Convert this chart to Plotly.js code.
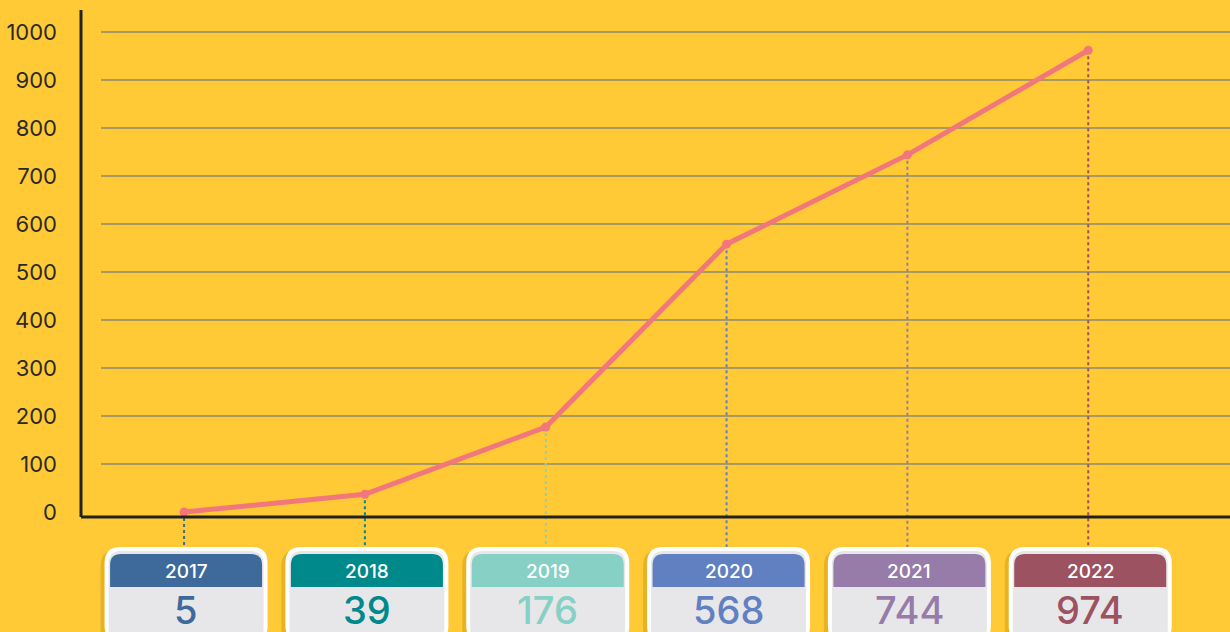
<!DOCTYPE html>
<html>
<head>
<meta charset="utf-8">
<script src="https://cdn.plot.ly/plotly-3.0.1.min.js"></script>
<style>
  html, body { margin: 0; padding: 0; background: #FFCA35; }
  #chart { width: 1230px; height: 632px; }
</style>
</head>
<body>
<div id="chart"></div>
<script>
// ---- data ----
var years = ['2017', '2018', '2019', '2020', '2021', '2022'];
var plottedValues = [0, 37, 177, 558, 744, 962];   // point positions as drawn
var labelValues = [5, 39, 176, 568, 744, 974];     // numbers shown in the boxes
var yearColors = ['#3D6A9B', '#00898A', '#86D0C6', '#6180C2', '#977BA9', '#9D5262'];
var yTicks = [0, 100, 200, 300, 400, 500, 600, 700, 800, 900, 1000];

// ---- layout geometry ----
var W = 1230, H = 632;
var M = {l: 81, r: 0, t: 10, b: 115};
var PW = W - M.l - M.r, PH = H - M.t - M.b;
var xr = [-0.570, 5.784];
var yr = [-10.4, 1045.8];
var bg = '#FFCA35';

function xPix(i) { return M.l + (i - xr[0]) * PW / (xr[1] - xr[0]); }
function yPix(v) { return M.t + PH - (v - yr[0]) * PH / (yr[1] - yr[0]); }
function px2paperX(p) { return (p - M.l) / PW; }
function px2paperY(p) { return (M.t + PH - p) / PH; }

function roundRectPath(x0, x1, y0, y1, rTop, rBot) {
  var X = px2paperX, Y = px2paperY;
  var p = 'M' + X(x0 + rTop) + ',' + Y(y0) +
    ' L' + X(x1 - rTop) + ',' + Y(y0) +
    ' Q' + X(x1) + ',' + Y(y0) + ' ' + X(x1) + ',' + Y(y0 + rTop) +
    ' L' + X(x1) + ',' + Y(y1 - rBot) +
    (rBot > 0 ? ' Q' + X(x1) + ',' + Y(y1) + ' ' + X(x1 - rBot) + ',' + Y(y1) : '') +
    ' L' + X(x0 + rBot) + ',' + Y(y1) +
    (rBot > 0 ? ' Q' + X(x0) + ',' + Y(y1) + ' ' + X(x0) + ',' + Y(y1 - rBot) : '') +
    ' L' + X(x0) + ',' + Y(y0 + rTop) +
    ' Q' + X(x0) + ',' + Y(y0) + ' ' + X(x0 + rTop) + ',' + Y(y0) + ' Z';
  return p;
}

var shapes = [];
var annotations = [];

// gridlines (start slightly right of the axis line)
yTicks.forEach(function (t) {
  if (t === 0) return;
  shapes.push({
    type: 'line', layer: 'below', xref: 'paper', yref: 'y',
    x0: px2paperX(101), x1: 1, y0: t, y1: t,
    line: {color: '#8E8A6E', width: 1.3}
  });
});

// axis lines
shapes.push({type: 'line', xref: 'paper', yref: 'paper', x0: 0, x1: 1, y0: 0, y1: 0,
  line: {color: '#222222', width: 3}, layer: 'above'});
shapes.push({type: 'line', xref: 'paper', yref: 'paper', x0: 0, x1: 0, y0: 0, y1: 1,
  line: {color: '#222222', width: 3}, layer: 'above'});

var boxTop = 547, boxBot = 642, boxHalf = 81.5;
years.forEach(function (yr_, i) {
  var cx = xPix(i);
  var bx = cx + 2;
  var col = yearColors[i];
  // dotted drop line
  shapes.push({
    type: 'line', layer: 'below', xref: 'paper', yref: 'paper',
    x0: px2paperX(cx), x1: px2paperX(cx),
    y0: px2paperY(yPix(plottedValues[i])), y1: px2paperY(boxTop),
    line: {color: col, width: 2, dash: 'dot'}
  });
  // shadow
  shapes.push({
    type: 'path', layer: 'above', xref: 'paper', yref: 'paper',
    path: roundRectPath(bx - boxHalf - 4, bx + boxHalf - 2, boxTop + 3, boxBot + 3, 16, 16),
    fillcolor: 'rgba(190,135,0,0.35)', line: {width: 0}
  });
  // outer white card
  shapes.push({
    type: 'path', layer: 'above', xref: 'paper', yref: 'paper',
    path: roundRectPath(bx - boxHalf, bx + boxHalf, boxTop, boxBot, 16, 16),
    fillcolor: '#FFFFFF', line: {width: 0}
  });
  // inner light grey
  shapes.push({
    type: 'path', layer: 'above', xref: 'paper', yref: 'paper',
    path: roundRectPath(bx - boxHalf + 4, bx + boxHalf - 4, boxTop + 4, boxBot, 13, 13),
    fillcolor: '#E7E7E9', line: {width: 0}
  });
  // header band
  shapes.push({
    type: 'path', layer: 'above', xref: 'paper', yref: 'paper',
    path: roundRectPath(bx - 76, bx + 76, 554, 587, 11, 0),
    fillcolor: col, line: {width: 0}
  });
  annotations.push({
    xref: 'paper', yref: 'paper', x: px2paperX(bx), y: px2paperY(571),
    text: yr_, showarrow: false, xanchor: 'center', yanchor: 'middle',
    font: {family: 'Inter, Roboto, sans-serif', size: 19, color: '#FFFFFF', weight: 500}
  });
  annotations.push({
    xref: 'paper', yref: 'paper', x: px2paperX(bx), y: px2paperY(610),
    text: String(labelValues[i]), showarrow: false, xanchor: 'center', yanchor: 'middle',
    font: {family: 'Inter, Roboto, sans-serif', size: 38, color: col, weight: 500}
  });
});

var trace = {
  x: years.map(function (_, i) { return i; }),
  y: plottedValues,
  type: 'scatter', mode: 'lines+markers',
  line: {color: '#F2777C', width: 5},
  marker: {color: '#F2777C', size: 9},
  hoverinfo: 'skip',
  cliponaxis: false
};

var layout = {
  width: W, height: H,
  margin: M,
  paper_bgcolor: bg, plot_bgcolor: 'rgba(0,0,0,0)',
  showlegend: false,
  xaxis: {range: xr, showgrid: false, zeroline: false, showline: false,
    showticklabels: false, ticks: '', fixedrange: true},
  yaxis: {range: yr, showgrid: false, zeroline: false, showline: false,
    tickvals: yTicks, ticktext: yTicks.map(String), ticks: '',
    ticklabelstandoff: 23,
    tickfont: {family: 'Inter, Roboto, sans-serif', size: 22, color: '#2A2A2A'},
    fixedrange: true},
  shapes: shapes,
  annotations: annotations
};

Plotly.newPlot('chart', [trace], layout, {displayModeBar: false, staticPlot: true});
</script>
</body>
</html>
